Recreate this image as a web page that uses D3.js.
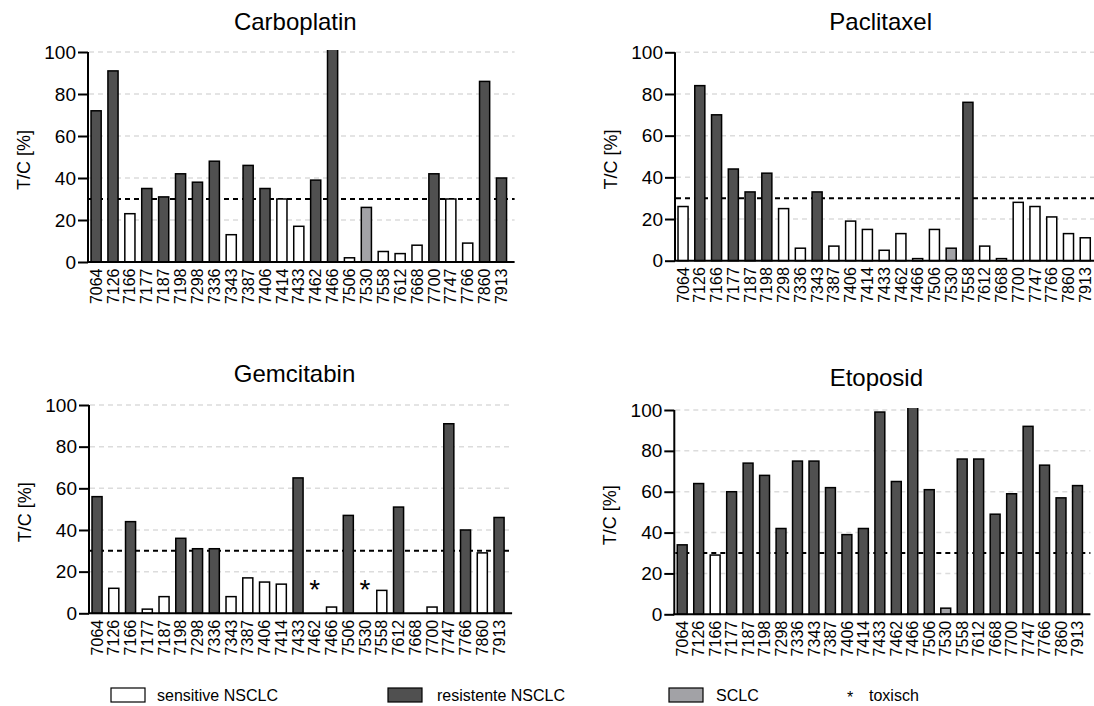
<!DOCTYPE html>
<html><head><meta charset="utf-8">
<script src="https://cdn.jsdelivr.net/npm/d3@7"></script>
<style>
html,body{margin:0;padding:0;background:#fff;}
svg{display:block;font-family:"Liberation Sans",Arial,Helvetica,sans-serif;font-weight:normal;}
</style></head>
<body><svg id="chart" width="1094" height="706"></svg>
<script>
// ---------- data ----------
const categories = ["7064","7126","7166","7177","7187","7198","7298","7336","7343","7387","7406","7414","7433","7462","7466","7506","7530","7558","7612","7668","7700","7747","7766","7860","7913"];
const yTicks = [0,20,40,60,80,100];
const threshold = 30;

const carboValues = [72,91,23,35,31,42,38,48,13,46,35,30,17,39,110,2,26,5,4,8,42,30,9,86,40];
const carboTypes  = ["R","R","S","R","R","R","R","R","S","R","R","S","S","R","R","S","C","S","S","S","R","S","S","R","R"];

const pacliValues = [26,84,70,44,33,42,25,6,33,7,19,15,5,13,1,15,6,76,7,1,28,26,21,13,11];
const pacliTypes  = ["S","R","R","R","R","R","S","S","R","S","S","S","S","S","S","S","C","R","S","S","S","S","S","S","S"];

const gemValues = [56,12,44,2,8,36,31,31,8,17,15,14,65,null,3,47,null,11,51,null,3,91,40,29,46];
const gemTypes  = ["R","S","R","S","S","R","R","R","S","S","S","S","R","T","S","R","T","S","R","N","S","R","R","S","R"];

const etoValues = [34,64,29,60,74,68,42,75,75,62,39,42,99,65,110,61,3,76,76,49,59,92,73,57,63];
const etoTypes  = ["R","R","S","R","R","R","R","R","R","R","R","R","R","R","R","R","C","R","R","R","R","R","R","R","R"];

const legendLabels = ["sensitive NSCLC","resistente NSCLC","SCLC","toxisch"];

// ---------- layout ----------
const fills = {S:"#ffffff", R:"#505050", C:"#a2a2a6"};
const panels = [
  {title:"Carboplatin", values:carboValues, types:carboTypes, x0:88,  x1:509.6,  y0:262,   y100:52,   titleY:30},
  {title:"Paclitaxel",  values:pacliValues, types:pacliTypes, x0:675, x1:1093.3, y0:260.7, y100:52.3, titleY:30},
  {title:"Gemcitabin",  values:gemValues,   types:gemTypes,   x0:89,  x1:507.1,  y0:613.3, y100:405,  titleY:382},
  {title:"Etoposid",    values:etoValues,   types:etoTypes,   x0:674.3,x1:1085.4,y0:614.3, y100:410,  titleY:386}
];

const svg = d3.select("#chart");
const defs = svg.append("defs");

panels.forEach((p, pi) => {
  const x = d3.scaleBand().domain(categories).range([p.x0, p.x1]).paddingInner(0.4).paddingOuter(0.18);
  const y = d3.scaleLinear().domain([0,100]).range([p.y0, p.y100]);
  const gridEnd = p.x1 + 5;
  const g = svg.append("g");

  const clipId = "clip" + pi;
  defs.append("clipPath").attr("id", clipId).append("rect")
    .attr("x", p.x0).attr("y", y(100) - 2).attr("width", gridEnd - p.x0).attr("height", p.y0 - y(100) + 4);

  g.selectAll(".grid").data(yTicks.filter(t => t > 0)).enter().append("line")
    .attr("x1", p.x0 + 1).attr("x2", gridEnd).attr("y1", d => y(d)).attr("y2", d => y(d))
    .attr("stroke", "#dcdcdc").attr("stroke-width", 1.5).attr("stroke-dasharray", "5,4");

  g.append("line").attr("x1", p.x0 + 1).attr("x2", gridEnd)
    .attr("y1", y(threshold)).attr("y2", y(threshold))
    .attr("stroke", "#000").attr("stroke-width", 2).attr("stroke-dasharray", "5,4");

  const data = categories.map((c, i) => ({c, v: p.values[i], t: p.types[i]}));
  g.append("g").attr("clip-path", `url(#${clipId})`)
    .selectAll("rect").data(data.filter(d => d.v !== null && fills[d.t])).enter().append("rect")
    .attr("x", d => x(d.c)).attr("width", x.bandwidth())
    .attr("y", d => y(d.v)).attr("height", d => y(0) - y(d.v))
    .attr("fill", d => fills[d.t]).attr("stroke", "#000").attr("stroke-width", 1.5);

  g.selectAll(".tox").data(data.filter(d => d.t === "T")).enter().append("text")
    .attr("x", d => x(d.c) + x.bandwidth() / 2).attr("y", y(7))
    .attr("text-anchor", "middle").attr("font-size", 28).attr("fill", "#000").text("*");

  const ya = g.append("g").attr("transform", `translate(${p.x0},0)`)
    .call(d3.axisLeft(y).tickValues(yTicks).tickSize(10).tickPadding(2));
  ya.selectAll("path,line").attr("stroke", "#000").attr("stroke-width", 2);
  ya.select(".domain").attr("d", `M0,${y(0)}V${y(100)}`);
  ya.selectAll("text").attr("font-size", 19).attr("fill", "#000").attr("font-family", null);

  const xa = g.append("g").attr("transform", `translate(0,${p.y0})`)
    .call(d3.axisBottom(x).tickSize(0));
  xa.select(".domain").remove();
  xa.selectAll("text")
    .attr("font-size", 16).attr("fill", "#000").attr("font-family", null)
    .attr("y", 0).attr("x", -6.5).attr("dy", "0.35em")
    .attr("transform", "rotate(-90)").style("text-anchor", "end");
  g.append("line").attr("x1", p.x0 - 1).attr("x2", gridEnd).attr("y1", p.y0).attr("y2", p.y0)
    .attr("stroke", "#000").attr("stroke-width", 2);

  const ly = (p.y0 + p.y100) / 2 + 3;
  g.append("text").attr("transform", `translate(${p.x0 - 58},${ly}) rotate(-90)`)
    .attr("text-anchor", "middle").attr("font-size", 18).attr("fill", "#000").text("T/C [%]");

  g.append("text").attr("x", (p.x0 + gridEnd) / 2 - 6).attr("y", p.titleY)
    .attr("text-anchor", "middle").attr("font-size", 24).attr("font-weight", "normal").attr("fill", "#000").text(p.title);
});

// ---------- legend ----------
const legendItems = [
  {box: fills.S, bx: 111, tx: 157},
  {box: fills.R, bx: 388, tx: 437},
  {box: fills.C, bx: 669, tx: 716},
  {box: null,    bx: 850, tx: 869}
];
const lg = svg.append("g");
legendItems.forEach((it, i) => {
  if (it.box) {
    lg.append("rect").attr("x", it.bx).attr("y", 688).attr("width", 34).attr("height", 14)
      .attr("fill", it.box).attr("stroke", "#000").attr("stroke-width", 1.2);
  } else {
    lg.append("text").attr("x", it.bx).attr("y", 703).attr("font-size", 16).attr("text-anchor", "middle").text("*");
  }
  lg.append("text").attr("x", it.tx).attr("y", 701).attr("font-size", 16).attr("fill", "#000").text(legendLabels[i]);
});
</script></body></html>
